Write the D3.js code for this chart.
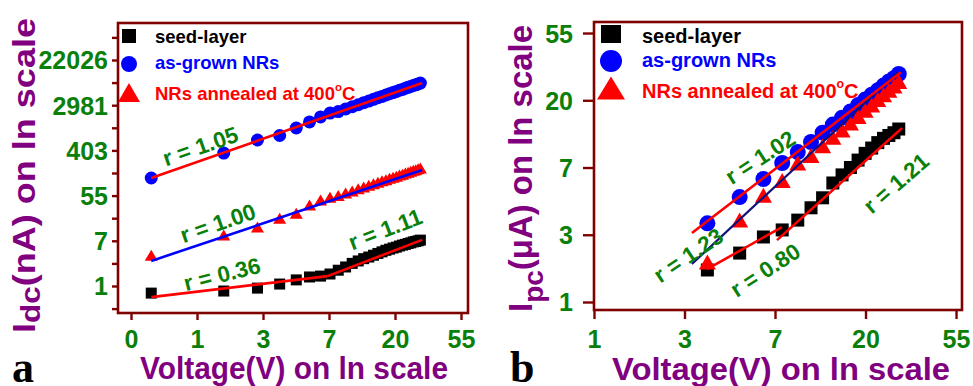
<!DOCTYPE html>
<html><head><meta charset="utf-8">
<script src="https://cdn.jsdelivr.net/npm/d3@7"></script>
<style>
body{margin:0;background:#fff}
svg{display:block}
text{font-family:"Liberation Sans",Arial,sans-serif;font-weight:bold}
text.letter{font-family:"Liberation Serif","Times New Roman",serif;font-weight:bold}
</style>
</head><body>
<svg id="c" width="973" height="386"></svg>
<script>
// ---------- DATA (panel a : dark current) ----------
const voltA = [0.5,1.5,2.5,3.5,4.5,5.5,6.5,7.5,8.5,9.5,10.5,11.5,12.5,13.5,14.5,15.5,16.5,17.5,18.5,19.5,20.5,21.5,22.5,23.5,24.5,25.5,26.5,27.5,28.5,29.5];
const seedA = [0.73,0.80,0.91,1.09,1.31,1.49,1.55,1.70,2.01,2.32,2.72,3.03,3.35,3.60,3.90,4.22,4.53,4.85,5.10,5.37,5.58,5.87,6.11,6.30,6.55,6.75,7.03,7.17,7.39,7.61];
const grownA = [119,358,639,780,1086,1422,1772,2100,2250,2520,2780,3040,3330,3570,3870,4150,4400,4680,4960,5220,5490,5770,6000,6310,6570,6840,7120,7330,7630,7940];
const annealA = [3.9,9.6,13.6,20,25,36,45,51,55,61,67,74,80,86,92,98,105,110,117,123,129,136,141,148,154,161,167,172,179,185];
// fitted lines (endpoints, V and I)
const fitGrownA = [[0.5,119],[30.3,7940]];
const fitAnnealA = [[0.5,3.03],[30.3,169]];
const fitSeedA1 = [[0.5,0.61],[7.24,1.55]];
const fitSeedA2 = [[7.24,1.55],[30.3,7.69]];
const rTextA = ["r = 1.05","r = 1.00","r = 0.36","r = 1.11"];
const rPosA = [[1.05,489],[1.37,16.3],[1.46,1.70],[17.3,12.4]];
const rAngA = [-19,-19,-14,-21];
const xTickLnA = [-1,0,1,2,3,4];
const xTickLabelsA = ["0","1","3","7","20","55"];
const yTickLnA = [0,2,4,6,8,10];
const yTickLabelsA = ["1","7","55","403","2981","22026"];
const yMinorLnA = [-1,1,3,5,7,9,11];

// ---------- DATA (panel b : photocurrent) ----------
const voltB = [3.5,5,6.5,8,9.5,11,12.5,14,15.5,17,18.5,20,21.5,23,24.5,26,27.5,29];
const seedB = [1.61,2.07,2.63,2.92,3.38,4.06,4.71,5.87,6.62,7.39,8.25,9.12,9.87,10.7,11.4,11.9,12.4,13.1];
const grownB = [3.22,4.76,6.23,7.9,9.3,10.8,12.4,14.0,15.5,17.0,18.7,20.3,21.8,23.3,25.0,26.6,27.9,29.7];
const annealB = [1.81,3.39,4.9,6.1,7.9,8.85,10.2,11.6,12.9,14.3,15.8,17.3,18.7,20.3,21.8,23.3,24.8,26.6];
const fitGrownB = [[2.95,2.79],[29.7,30.5]];
const fitAnnealB = [[2.95,1.76],[28.7,30.5]];
const fitSeedB1 = [[3.49,1.63],[7.98,3.05]];
const fitSeedB2 = [[7.55,2.51],[30.1,13.3]];
const rTextB = ["r = 1.02","r = 1.23","r = 0.80","r = 1.21"];
const rPosB = [[6.26,8.63],[2.83,2.01],[6.62,1.61],[28.1,5.86]];
const rAngB = [-33,-34,-33,-41];
const xTickLnB = [0,1,2,3,4];
const xTickLabelsB = ["1","3","7","20","55"];
const yTickLnB = [0,1,2,3,4];
const yTickLabelsB = ["1","3","7","20","55"];

const legendLabels = ["seed-layer","as-grown NRs","NRs annealed at 400"];

// ---------- STYLE ----------
const MAROON="#800000", GREEN="#0a800a", PURPLE="#800080", BLUE="#0000ff", RED="#ff0000", NAVY="#10107a";
const svg = d3.select("#c");

function triPath(cx,cy,w,h){return `M${cx},${cy-h/2}L${cx+w/2},${cy+h/2}L${cx-w/2},${cy+h/2}Z`;}

function panel(p){
  const g = svg.append("g");
  const x = d3.scaleLog().base(Math.E).domain(p.xDom.map(Math.exp)).range([p.L,p.R]);
  const y = d3.scaleLog().base(Math.E).domain(p.yDom.map(Math.exp)).range([p.B,p.T]);

  // x axis
  const xa = g.append("g").attr("transform",`translate(0,${p.B})`)
    .call(d3.axisBottom(x).tickValues(p.xTicks.map(Math.exp)).tickFormat((d,i)=>p.xLabels[i]).tickSize(p.xTickLen).tickSizeOuter(0));
  xa.select(".domain").remove();
  xa.selectAll(".tick line").attr("stroke",MAROON).attr("stroke-width",2.4);
  xa.selectAll(".tick text").attr("y",348-p.B).attr("dy",null).attr("fill",GREEN).attr("font-size",25);

  // y axis
  const ya = g.append("g").attr("transform",`translate(${p.L},0)`)
    .call(d3.axisLeft(y).tickValues(p.yTicks.map(Math.exp)).tickFormat((d,i)=>p.yLabels[i]).tickSize(p.yTickLen).tickSizeOuter(0));
  ya.select(".domain").remove();
  ya.selectAll(".tick line").attr("stroke",MAROON).attr("stroke-width",2.4);
  ya.selectAll(".tick text").attr("x",-(p.L-p.yLabelRight)).attr("dy","0.36em").attr("fill",GREEN).attr("font-size",25);
  if(p.yMinor){
    const ym = g.append("g").attr("transform",`translate(${p.L},0)`)
      .call(d3.axisLeft(y).tickValues(p.yMinor.map(Math.exp)).tickFormat("").tickSize(p.yTickLen).tickSizeOuter(0));
    ym.select(".domain").remove();
    ym.selectAll(".tick line").attr("stroke",MAROON).attr("stroke-width",2.4);
  }

  // frame
  g.append("rect").attr("x",p.L).attr("y",p.T).attr("width",p.R-p.L).attr("height",p.B-p.T)
    .attr("fill","none").attr("stroke",MAROON).attr("stroke-width",2.6);

  // markers
  const m = p.mk;
  g.selectAll(null).data(d3.zip(p.volt,p.seed)).join("rect")
    .attr("x",d=>x(d[0])-m.sq/2).attr("y",d=>y(d[1])-m.sq/2).attr("width",m.sq).attr("height",m.sq).attr("fill","#000");
  g.selectAll(null).data(d3.zip(p.volt,p.grown)).join("circle")
    .attr("cx",d=>x(d[0])).attr("cy",d=>y(d[1])).attr("r",m.r).attr("fill",BLUE);
  g.selectAll(null).data(d3.zip(p.volt,p.anneal)).join("path")
    .attr("d",d=>triPath(x(d[0]),y(d[1]),m.tw,m.th)).attr("fill",RED);

  // fit lines
  const line = d3.line().x(d=>x(d[0])).y(d=>y(d[1]));
  p.fits.forEach(f=>{
    g.append("path").attr("d",line(f.pts)).attr("fill","none").attr("stroke",f.color).attr("stroke-width",f.w||2.6);
  });

  // r labels
  p.rText.forEach((t,i)=>{
    const px=x(p.rPos[i][0]), py=y(p.rPos[i][1]);
    g.append("text").attr("transform",`translate(${px},${py}) rotate(${p.rAng[i]})`)
      .attr("text-anchor","middle").attr("dy","0.36em").attr("font-size",22.5).attr("fill",GREEN).text(t);
  });

  // legend
  const L = p.leg;
  g.append("rect").attr("x",L.mx-L.sqw/2).attr("y",L.ys[0]-L.sqh/2).attr("width",L.sqw).attr("height",L.sqh).attr("fill","#000");
  g.append("circle").attr("cx",L.mx).attr("cy",L.ys[1]).attr("r",L.r).attr("fill",BLUE);
  g.append("path").attr("d",triPath(L.mx,L.ys[2],L.tw,L.th)).attr("fill",RED);
  const cols=["#000",BLUE,RED];
  legendLabels.forEach((t,i)=>{
    const tx = g.append("text").attr("x",L.tx).attr("y",L.bl[i]).attr("font-size",L.fs).attr("fill",cols[i]).text(t);
    if(i===2){
      tx.append("tspan").attr("font-size",L.fs*0.62).attr("dy",-L.fs*0.5).text("o");
      tx.append("tspan").attr("dy",L.fs*0.5).text("C");
    }
  });

  // axis titles
  g.append("text").attr("x",p.xTitle.cx).attr("y",p.xTitle.base).attr("text-anchor","middle")
    .attr("font-size",p.xTitle.fs).attr("fill",PURPLE).attr("textLength",p.xTitle.len).attr("lengthAdjust","spacingAndGlyphs")
    .text("Voltage(V) on ln scale");
  const yt = g.append("text").attr("transform",`translate(${p.yTitle.bx},${p.yTitle.cy}) rotate(-90)`)
    .attr("text-anchor","middle").attr("font-size",p.yTitle.fs).attr("fill",PURPLE)
    .attr("textLength",p.yTitle.len).attr("lengthAdjust","spacingAndGlyphs");
  yt.append("tspan").text("I");
  yt.append("tspan").attr("font-size",p.yTitle.subFs).attr("dy",p.yTitle.subDy).text(p.yTitle.sub);
  yt.append("tspan").attr("dy",-p.yTitle.subDy).text(p.yTitle.rest);

  // panel letter
  g.append("text").attr("class","letter").attr("x",p.letter.x).attr("y",382).attr("font-size",44)
    .attr("fill","#000").text(p.letter.t);
}

panel({
  L:118,R:468,T:23,B:313,xDom:[-1.197,4.106],yDom:[-1.195,11.637],
  xTicks:xTickLnA,xLabels:xTickLabelsA,xTickLen:7,
  yTicks:yTickLnA,yLabels:yTickLabelsA,yMinor:yMinorLnA,yTickLen:6,yLabelRight:108,
  volt:voltA,seed:seedA,grown:grownA,anneal:annealA,
  mk:{sq:11,r:6.5,tw:13,th:11},
  fits:[{pts:fitGrownA,color:RED},{pts:fitAnnealA,color:BLUE},{pts:fitSeedA1,color:RED},{pts:fitSeedA2,color:RED}],
  rText:rTextA,rPos:rPosA,rAng:rAngA,
  leg:{mx:129,ys:[36,64,92.5],sqw:14,sqh:14,r:8,tw:22,th:19,tx:155,bl:[43,69,100],fs:18.5},
  xTitle:{cx:294,base:379,fs:31,len:308},
  yTitle:{bx:35,cy:175.5,fs:31,len:315,sub:"dc",subFs:27,subDy:5,rest:"(nA) on ln scale"},
  letter:{x:12,t:"a"}
});

panel({
  L:594,R:962,T:22,B:310,xDom:[0,4.066],yDom:[-0.119,4.164],
  xTicks:xTickLnB,xLabels:xTickLabelsB,xTickLen:9,
  yTicks:yTickLnB,yLabels:yTickLabelsB,yMinor:null,yTickLen:11,yLabelRight:573,
  volt:voltB,seed:seedB,grown:grownB,anneal:annealB,
  mk:{sq:13,r:8,tw:17,th:15},
  fits:[{pts:fitSeedB1,color:RED},{pts:fitSeedB2,color:RED},{pts:fitAnnealB,color:NAVY,w:2.2},{pts:fitGrownB,color:RED}],
  rText:rTextB,rPos:rPosB,rAng:rAngB,
  leg:{mx:611,ys:[34,61,88],sqw:20,sqh:18,r:11,tw:28,th:23,tx:642,bl:[43,67,98],fs:20},
  xTitle:{cx:781,base:380,fs:32,len:338},
  yTitle:{bx:532,cy:168.5,fs:33,len:287,sub:"pc",subFs:28,subDy:11,rest:"(μA) on ln scale"},
  letter:{x:510,t:"b"}
});
</script>
</body></html>
